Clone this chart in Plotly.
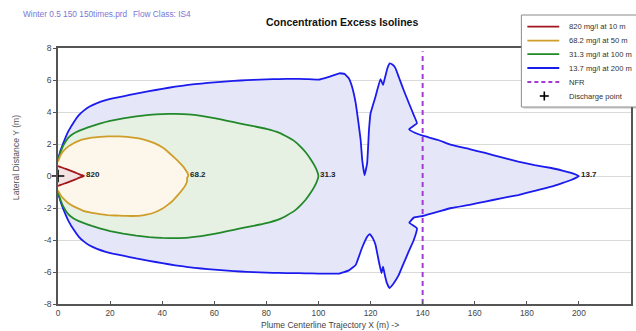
import plotly.graph_objects as go

# ---------------- data ----------------
red_x = [0, 1, 2, 3, 4, 5, 6, 7, 8, 9, 10,
         9, 8, 7, 6, 5, 4, 3, 2, 1, 0]
red_y = [0.62, 0.56, 0.5, 0.44, 0.38, 0.32, 0.26, 0.19, 0.12, 0.06, 0.0,
         -0.06, -0.12, -0.19, -0.26, -0.32, -0.38, -0.44, -0.5, -0.56, -0.62]

yel_x = [0, 1, 2, 4, 6, 8, 10, 13, 16, 19, 22, 25, 28, 31, 34, 37, 40, 42, 44, 46, 48, 49, 49.7, 50,
         49.5, 49.6, 49, 48, 46, 44, 42, 40, 37, 34, 31, 28, 25, 22, 19, 16, 13, 10, 8, 6, 4, 2, 1, 0]
yel_y = [0.9, 1.3, 1.55, 1.85, 2.05, 2.2, 2.3, 2.4, 2.45, 2.48, 2.48, 2.46, 2.42, 2.35, 2.22, 2.05, 1.8, 1.55, 1.25, 0.95, 0.6, 0.38, 0.2, 0.0,
         -0.15, -0.3, -0.55, -0.8, -1.2, -1.55, -1.82, -2.05, -2.28, -2.42, -2.49, -2.5, -2.49, -2.47, -2.44, -2.38, -2.3, -2.2, -2.05, -1.9, -1.7, -1.4, -1.2, -0.9]

grn_x = [0, 1, 2, 4, 6, 8, 10, 13, 16, 20, 25, 30, 35, 40, 45, 50, 55, 60, 65, 70, 75, 80, 85, 88, 91, 93, 95, 97, 98.5, 99.5, 100,
         99.5, 98.5, 97, 95, 93, 91, 88, 85, 80, 75, 70, 65, 60, 55, 50, 45, 40, 35, 30, 25, 20, 16, 13, 10, 8, 6, 4, 2, 1, 0]
grn_y = [1.0, 1.5, 1.9, 2.4, 2.65, 2.82, 2.95, 3.12, 3.27, 3.44, 3.6, 3.73, 3.82, 3.87, 3.88, 3.85, 3.76, 3.62, 3.45, 3.28, 3.12, 2.95, 2.7, 2.45, 2.15, 1.85, 1.5, 1.05, 0.65, 0.3, 0.0,
         -0.3, -0.65, -1.05, -1.5, -1.85, -2.15, -2.45, -2.7, -2.95, -3.12, -3.28, -3.45, -3.62, -3.76, -3.85, -3.88, -3.87, -3.82, -3.73, -3.6, -3.44, -3.27, -3.12, -2.95, -2.82, -2.65, -2.4, -1.9, -1.5, -1.0]

blu_x = [0, 1, 2, 3, 4, 6, 8, 10, 12, 15, 18, 21, 25, 30, 35, 40, 45, 50, 55, 60, 65, 70, 75, 80, 85, 90, 95, 100,
         104, 108, 110, 111.7, 112.9, 114.3, 115.3, 116.2, 116.8, 117.7, 118.7, 119.4, 120.0, 121.9, 123.8, 124.8, 125.5,
         126.5, 127.4, 128.5, 129.6, 130.8, 132.7, 134.7, 136.6, 137.8, 134.8, 137.0, 140, 146, 151, 158, 164, 170, 176.7,
         183, 189.4, 194, 197, 199, 200,
         199, 197, 194, 189.4, 183, 176.7, 170, 164, 158, 151, 146, 140, 136.6, 134.9, 137.8, 136.6, 134.7, 132.7, 130.8,
         128.9, 127.3, 126.3, 125.5, 124.8, 124.2, 123.2, 121.9, 120.9, 119.7, 118.7, 116.7, 114.3, 111.7, 107.9,
         100, 95, 90, 85, 80, 75, 70, 65, 60, 55, 50, 45, 40, 35, 30, 25, 21, 18, 15, 12, 10, 8, 6, 4, 3, 2, 1, 0]
blu_y = [1.05, 1.6, 2.05, 2.45, 2.8, 3.35, 3.8, 4.1, 4.33, 4.55, 4.72, 4.85, 4.98, 5.15, 5.3, 5.45, 5.58, 5.69, 5.78, 5.85, 5.92, 5.97, 6.01, 6.04, 6.06, 6.07, 6.06, 6.02,
         6.2, 6.42, 6.38, 6.1, 5.58, 4.56, 3.4, 2.25, 1.0, 0.05, 0.8, 2.875, 3.92, 4.96, 6.06, 5.69, 6.12,
         6.75, 7.04, 6.95, 6.73, 6.2, 5.375, 4.56, 3.81, 3.3, 2.92, 2.7, 2.52, 2.25, 1.94, 1.68, 1.44, 1.18, 0.9,
         0.68, 0.5, 0.32, 0.19, 0.08, 0.0,
         -0.1, -0.25, -0.42, -0.67, -0.93, -1.19, -1.4, -1.6, -1.8, -2.0, -2.23, -2.5, -2.6, -2.92, -3.27, -4.0, -4.7, -5.46, -6.2,
         -6.7, -7.0, -6.7, -6.2, -5.67, -6.07, -5.35, -4.3, -3.9, -3.63, -3.8, -4.5, -5.56, -5.9, -6.1,
         -6.1, -6.08, -6.07, -6.06, -6.04, -6.01, -5.97, -5.92, -5.85, -5.78, -5.69, -5.58, -5.45, -5.3, -5.15, -4.98, -4.85, -4.72, -4.55, -4.33, -4.1, -3.8, -3.35, -2.8, -2.45, -2.05, -1.6, -1.05]

series_names = ["820 mg/l at 10 m", "68.2 mg/l at 50 m", "31.3 mg/l at 100 m", "13.7 mg/l at 200 m"]
label_texts = ["820", "68.2", "31.3", "13.7"]
label_x = [10, 50, 100, 200]
nfr_x = 140
discharge_x = [0]
discharge_y = [0]

x_tick_vals = [0, 20, 40, 60, 80, 100, 120, 140, 160, 180, 200, 220]
y_tick_vals = [-8, -6, -4, -2, 0, 2, 4, 6, 8]
y_tick_labels = ["-8", "-6", "-4", "-2", "0", "2", "4", "6", "8"]

# ---------------- style ----------------
FONT = "Liberation Sans, Arial, sans-serif"
line_cols = ["#a3161b", "#cf9e2a", "#22892a", "#1b1bee"]
fill_cols = ["#f3e2e2", "#fcf7ea", "#e7f1e3", "#e5e7f9"]
nfr_col = "#a43ad6"

W, H = 636, 331
ML, MR, MT, MB = 58, 3, 48, 27
PW, PH = W - ML - MR, H - MT - MB


def px(x):
    return (x - ML) / PW


def py(y):
    return (H - MB - y) / PH


fig = go.Figure()
polys = [(blu_x, blu_y, 3), (grn_x, grn_y, 2), (yel_x, yel_y, 1), (red_x, red_y, 0)]
for xs, ys, i in polys:
    fig.add_trace(go.Scatter(x=xs, y=ys, mode="lines", fill="toself",
                             fillcolor=fill_cols[i],
                             line=dict(color=line_cols[i], width=1.8, shape="spline", smoothing=0.3),
                             name=series_names[i], showlegend=False, hoverinfo="skip"))

fig.add_trace(go.Scatter(x=[nfr_x, nfr_x], y=[-8, 7.8], mode="lines",
                         line=dict(color=nfr_col, width=2, dash="5px,4px"),
                         showlegend=False, cliponaxis=False))
fig.add_trace(go.Scatter(x=discharge_x, y=discharge_y, mode="markers",
                         marker=dict(symbol="cross-thin", size=9, line=dict(color="black", width=1.6)),
                         showlegend=False, cliponaxis=False))

annotations = []
for t, lx in zip(label_texts, label_x):
    annotations.append(dict(x=lx, y=0, xref="x", yref="y", text="<b>" + t + "</b>",
                            showarrow=False, xanchor="left", yanchor="middle", xshift=0, yshift=2,
                            font=dict(family=FONT, size=8, color="#222")))

# title and header texts
annotations.append(dict(x=px(343), y=py(22), xref="paper", yref="paper",
                        text="<b>Concentration Excess Isolines</b>", showarrow=False,
                        xanchor="center", yanchor="middle",
                        font=dict(family=FONT, size=10.5, color="#111")))
annotations.append(dict(x=px(20.5), y=py(14), xref="paper", yref="paper",
                        text="Winter 0.5 150 150times.prd", showarrow=False,
                        xanchor="left", yanchor="middle",
                        font=dict(family=FONT, size=8.3, color="#7a78d4")))
annotations.append(dict(x=px(131), y=py(14), xref="paper", yref="paper",
                        text="Flow Class: IS4", showarrow=False,
                        xanchor="left", yanchor="middle",
                        font=dict(family=FONT, size=8.3, color="#7a78d4")))
# axis titles
annotations.append(dict(x=px(331), y=py(325), xref="paper", yref="paper",
                        text="Plume Centerline Trajectory X (m) ->", showarrow=False,
                        xanchor="center", yanchor="middle",
                        font=dict(family=FONT, size=8.5, color="#444")))
annotations.append(dict(x=px(16), y=py(158), xref="paper", yref="paper",
                        text="Lateral Distance Y (m)", showarrow=False, textangle=-90,
                        xanchor="center", yanchor="middle",
                        font=dict(family=FONT, size=8.6, color="#555")))

# manual legend
shapes = []
shapes.append(dict(type="rect", xref="paper", yref="paper",
                   x0=px(525), x1=px(648), y0=py(109), y1=py(17),
                   line=dict(width=0), fillcolor="rgba(0,0,0,0.12)", layer="above"))
shapes.append(dict(type="rect", xref="paper", yref="paper",
                   x0=px(523), x1=px(646), y0=py(107), y1=py(15),
                   line=dict(color="#8a8a8a", width=1), fillcolor="white", layer="above"))
leg_y = [26.7, 40.7, 54.2, 68, 82, 96]
for i in range(4):
    shapes.append(dict(type="line", xref="paper", yref="paper",
                       x0=px(529), x1=px(561), y0=py(leg_y[i]), y1=py(leg_y[i]),
                       line=dict(color=line_cols[i], width=1.8), layer="above"))
shapes.append(dict(type="line", xref="paper", yref="paper",
                   x0=px(529), x1=px(561), y0=py(leg_y[4]), y1=py(leg_y[4]),
                   line=dict(color=nfr_col, width=1.8, dash="4px,3px"), layer="above"))
shapes.append(dict(type="line", xref="paper", yref="paper",
                   x0=px(541.5), x1=px(550.5), y0=py(leg_y[5]), y1=py(leg_y[5]),
                   line=dict(color="black", width=1.6), layer="above"))
shapes.append(dict(type="line", xref="paper", yref="paper",
                   x0=px(546), x1=px(546), y0=py(leg_y[5] - 4.5), y1=py(leg_y[5] + 4.5),
                   line=dict(color="black", width=1.6), layer="above"))
leg_texts = series_names + ["NFR", "Discharge point"]
for t, ly in zip(leg_texts, leg_y):
    annotations.append(dict(x=px(569), y=py(ly), xref="paper", yref="paper", text=t,
                            showarrow=False, xanchor="left", yanchor="middle",
                            font=dict(family=FONT, size=7.6, color="#333")))

fig.update_layout(
    width=W, height=H,
    margin=dict(l=ML, r=MR, t=MT, b=MB, pad=0),
    paper_bgcolor="white", plot_bgcolor="white",
    font=dict(family=FONT, size=8.5, color="#333"),
    showlegend=False,
    annotations=annotations,
    shapes=shapes,
    xaxis=dict(range=[0, 220], tickvals=x_tick_vals, showgrid=False, zeroline=False,
               showline=True, linecolor="#555", linewidth=1.5, mirror=True,
               ticks="inside", ticklen=3, tickcolor="#555",
               tickfont=dict(family=FONT, size=8.3, color="#444")),
    yaxis=dict(range=[-8, 8], tickvals=y_tick_vals, ticktext=y_tick_labels,
               showgrid=True, gridcolor="#dadada", gridwidth=1, zeroline=False,
               showline=True, linecolor="#555", linewidth=1.5, mirror=True,
               ticks="outside", ticklen=3, tickcolor="#555",
               tickfont=dict(family=FONT, size=8.5, color="#444")),
)

fig.write_html("out.html", config={"displayModeBar": False},
               post_script="document.body.style.margin='0';document.body.style.overflow='hidden';")
